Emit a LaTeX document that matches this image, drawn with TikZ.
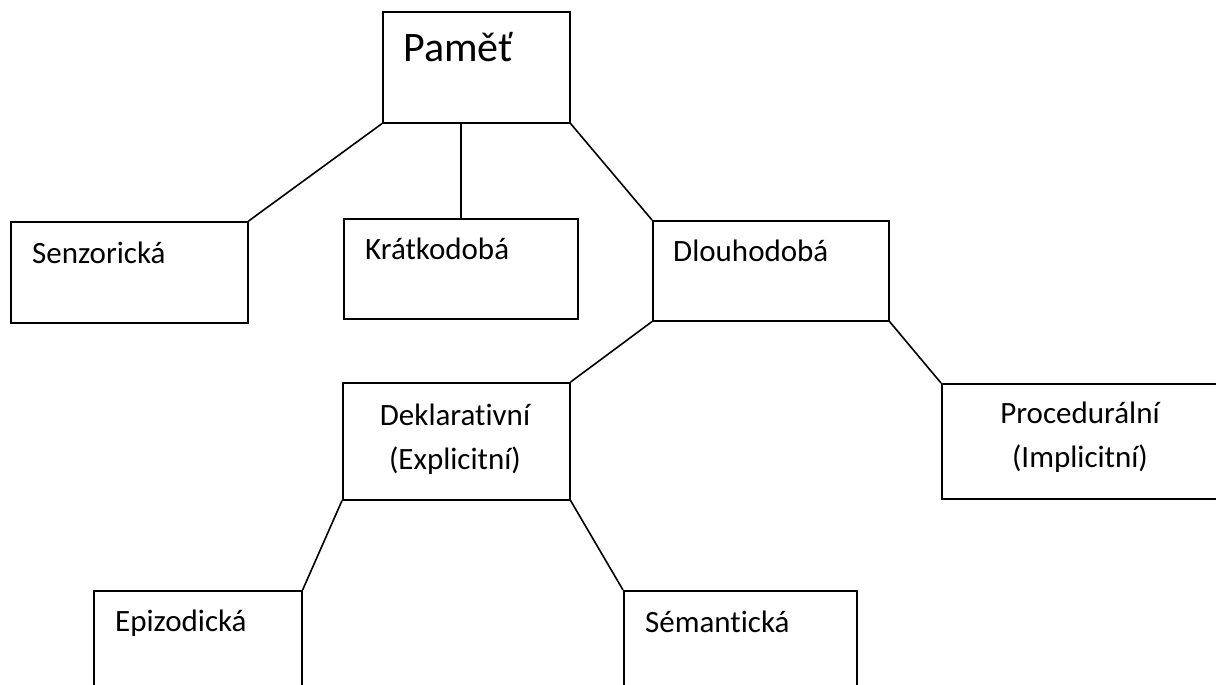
\documentclass[tikz,border=0pt]{standalone}
\usepackage{fontspec}
\setmainfont{Carlito}[Ligatures=NoCommon]
\tikzstyle{box} = [rectangle, draw=black, line width=1.6pt, inner sep=0pt, anchor=north west]
\tikzstyle{txt} = [inner sep=0pt, anchor=base west, font=\fontsize{31}{45}\selectfont]
\tikzstyle{twoline} = [inner sep=0pt, anchor=base, align=center, font=\fontsize{31}{44}\selectfont]
\tikzstyle{link} = [line width=1.6pt]

\begin{document}
\begin{tikzpicture}[x=1pt,y=-1pt]
				\useasboundingbox (0,0) rectangle (1216,685);
				\node (pamet) [box, minimum width=187pt, minimum height=111pt] at (382,11) {};
				\node (senz) [box, minimum width=237pt, minimum height=101pt] at (10,221) {};
				\node (kratko) [box, minimum width=234pt, minimum height=100pt] at (343,218) {};
				\node (dlouho) [box, minimum width=236pt, minimum height=100pt] at (652,220) {};
				\node (dekl) [box, minimum width=227pt, minimum height=117pt] at (342,382) {};
				\node (proced) [box, minimum width=290pt, minimum height=115pt] at (941,383) {};
				\node (epizod) [box, minimum width=208pt, minimum height=120pt] at (93,590) {};
				\node (seman) [box, minimum width=233pt, minimum height=120pt] at (623,590) {};
				
				\node (tpamet) [txt, font=\fontsize{42}{50}\selectfont] at (403,62) {Paměť};
				\node (tsenz) [txt] at (32,263) {Senzorická};
				\node (tkratko) [txt] at (365,259) {Krátkodobá};
				\node (tdlouho) [txt] at (673,261) {Dlouhodobá};
				\node (tdekl) [twoline] at (455,469) {Deklarativní\\(Explicitní)};
				\node (tproced) [twoline] at (1080,467) {Procedurální\\(Implicitní)};
				\node (tepizod) [txt] at (115,631) {Epizodická};
				\node (tseman) [txt] at (645,632) {Sémantická};
				
				\draw [link] (pamet.south west) -- (senz.north east);
				\draw [link] (kratko.north |- pamet.south) -- (kratko.north);
				\draw [link] (pamet.south east) -- (dlouho.north west);
				\draw [link] (dlouho.south west) -- (dekl.north east);
				\draw [link] (dlouho.south east) -- (proced.north west);
				\draw [link] (dekl.south west) -- (epizod.north east);
				\draw [link] (dekl.south east) -- (seman.north west);
				
\end{tikzpicture}
\end{document}
